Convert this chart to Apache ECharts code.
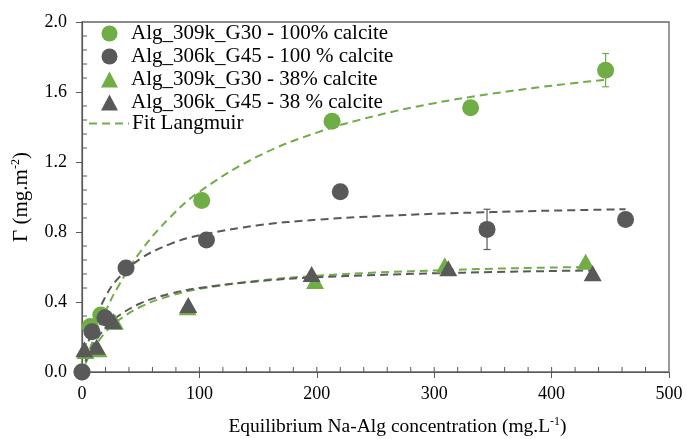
<!DOCTYPE html>
<html>
<head>
<meta charset="utf-8">
<script src="https://cdn.jsdelivr.net/npm/echarts@6/dist/echarts.min.js"></script>
<style>html,body{margin:0;padding:0;background:#fff}#c{width:687px;height:439px}</style>
</head>
<body>
<div id="c"></div>
<script>
// ---- data ----
const xTicks = [0, 100, 200, 300, 400, 500];
const yTicks = [0.0, 0.4, 0.8, 1.2, 1.6, 2.0];
const minorPerMajor = 5;

const nameG30_100 = 'Alg_309k_G30 - 100% calcite';
const nameG45_100 = 'Alg_306k_G45 - 100 % calcite';
const nameG30_38 = 'Alg_309k_G30 - 38% calcite';
const nameG45_38 = 'Alg_306k_G45 - 38 % calcite';
const nameFit = 'Fit Langmuir';

const g30_100_x = [0, 7, 16, 102, 213, 331, 446];
const g30_100_y = [0, 0.26, 0.326, 0.98, 1.433, 1.51, 1.724];
const g45_100_x = [0, 8.5, 19.5, 37.5, 106, 220, 345, 463];
const g45_100_y = [0, 0.23, 0.31, 0.594, 0.754, 1.03, 0.815, 0.872];
const g30_38_x = [3, 14, 28, 90, 198.5, 309, 429];
const g30_38_y = [0.12, 0.13, 0.287, 0.37, 0.52, 0.61, 0.63];
const g45_38_x = [2, 12.5, 26.5, 90.5, 195.6, 312, 435];
const g45_38_y = [0.13, 0.145, 0.29, 0.383, 0.56, 0.593, 0.564];

// error bars: x, low, high
const errG30_x = [446];
const errG30_lo = [1.63];
const errG30_hi = [1.82];
const errG45_x = [345];
const errG45_lo = [0.70];
const errG45_hi = [0.93];

// Langmuir fit curves
const fitG30_100_x = [3, 5, 10, 20, 30, 50, 75, 100, 150, 200, 250, 300, 350, 400, 446];
const fitG30_100_y = [0.061, 0.099, 0.189, 0.346, 0.479, 0.690, 0.884, 1.030, 1.233, 1.368, 1.464, 1.536, 1.591, 1.636, 1.670];
const fitG45_100_x = [3, 5, 10, 20, 30, 50, 75, 100, 150, 200, 250, 300, 350, 400, 463];
const fitG45_100_y = [0.103, 0.160, 0.275, 0.430, 0.529, 0.648, 0.731, 0.781, 0.838, 0.870, 0.890, 0.904, 0.914, 0.922, 0.930];
const fitG30_38_x = [3, 5, 10, 20, 30, 50, 75, 100, 150, 200, 250, 300, 350, 400, 429];
const fitG30_38_y = [0.048, 0.077, 0.137, 0.227, 0.290, 0.373, 0.435, 0.475, 0.522, 0.550, 0.568, 0.580, 0.590, 0.597, 0.600];
const fitG45_38_x = [3, 5, 10, 20, 30, 50, 75, 100, 150, 200, 250, 300, 350, 400, 435];
const fitG45_38_y = [0.059, 0.092, 0.160, 0.254, 0.316, 0.393, 0.447, 0.480, 0.519, 0.541, 0.554, 0.564, 0.571, 0.577, 0.580];

// ---- styling ----
const GREEN = '#70AD47';
const GRAY = '#595959';
const AXIS = '#595959';
const FONT = '"Liberation Serif", "Times New Roman", serif';
const INNER_TICK = 5;

const zip = (xs, ys) => xs.map((x, i) => [x, ys[i]]);
const zip3 = (xs, a, b) => xs.map((x, i) => [x, a[i], b[i]]);

// tick values for the inward tick marks (derived from the axis tick arrays)
function minorValues(ticks) {
  const out = [];
  for (let i = 0; i < ticks.length - 1; i++) {
    const step = (ticks[i + 1] - ticks[i]) / minorPerMajor;
    for (let k = 1; k < minorPerMajor; k++) out.push(ticks[i] + k * step);
  }
  return out;
}
const xInnerTickVals = minorValues(xTicks).concat(xTicks.slice(1, -1));
const yInnerTickVals = minorValues(yTicks);

function xTickRender(params, api) {
  const p = api.coord([api.value(0), api.value(1)]);
  return { type: 'line', shape: { x1: p[0], y1: p[1], x2: p[0], y2: p[1] - INNER_TICK },
           style: { stroke: AXIS, lineWidth: 1 } };
}
function yTickRender(params, api) {
  const p = api.coord([api.value(0), api.value(1)]);
  return { type: 'line', shape: { x1: p[0], y1: p[1], x2: p[0] + INNER_TICK, y2: p[1] },
           style: { stroke: AXIS, lineWidth: 1 } };
}

function errRender(color) {
  return function (params, api) {
    const x = api.value(0), lo = api.value(1), hi = api.value(2);
    const p1 = api.coord([x, lo]);
    const p2 = api.coord([x, hi]);
    const w = 3.5;
    const st = { stroke: color, lineWidth: 1.2 };
    return {
      type: 'group',
      children: [
        { type: 'line', shape: { x1: p1[0], y1: p1[1], x2: p2[0], y2: p2[1] }, style: st },
        { type: 'line', shape: { x1: p1[0] - w, y1: p1[1], x2: p1[0] + w, y2: p1[1] }, style: st },
        { type: 'line', shape: { x1: p2[0] - w, y1: p2[1], x2: p2[0] + w, y2: p2[1] }, style: st }
      ]
    };
  };
}

const fitLine = (name, xs, ys, color) => ({
  name: name, type: 'line', data: zip(xs, ys), symbol: 'none', showSymbol: false, smooth: 0.4,
  lineStyle: { color: color, width: 2, type: [8, 5] }, itemStyle: { color: color },
  z: 1, silent: true, animation: false
});

const scat = (name, xs, ys, color, symbol, size) => ({
  name: name, type: 'scatter', data: zip(xs, ys), symbol: symbol, symbolSize: size,
  itemStyle: { color: color, opacity: 1 }, z: 3, animation: false
});

const chart = echarts.init(document.getElementById('c'), null, { renderer: 'canvas' });
chart.setOption({
  backgroundColor: '#fff',
  animation: false,
  grid: { left: 82, right: 18, top: 22, bottom: 67, outerBoundsMode: 'none', containLabel: false,
          show: true, borderColor: '#666', borderWidth: 1.3, backgroundColor: 'transparent' },
  legend: [
    {
      orient: 'vertical', left: 101, top: 23, padding: 0, itemWidth: 17, itemHeight: 16, itemGap: 2,
      data: [
        { name: nameG30_100, icon: 'circle' },
        { name: nameG45_100, icon: 'circle' },
        { name: nameG30_38, icon: 'triangle' },
        { name: nameG45_38, icon: 'triangle' }
      ],
      textStyle: { fontFamily: FONT, fontSize: 21, color: '#000', lineHeight: 20, padding: [0, 0, 0, 8] },
      selectedMode: false
    },
    {
      orient: 'vertical', left: 88, top: 113, padding: 0, itemWidth: 40, itemHeight: 14,
      data: [{ name: nameFit }],
      itemStyle: { opacity: 0 },
      textStyle: { fontFamily: FONT, fontSize: 21, color: '#000', lineHeight: 20, padding: [0, 0, 0, -2] },
      selectedMode: false
    }
  ],
  xAxis: {
    type: 'value', position: 'bottom', min: xTicks[0], max: xTicks[xTicks.length - 1], interval: 100,
    axisLine: { show: true, onZero: false, lineStyle: { color: AXIS, width: 1.2 } },
    axisTick: { show: true, length: 6, lineStyle: { color: AXIS } },
    axisLabel: { fontFamily: FONT, fontSize: 18, color: '#000', margin: 13, formatter: v => String(v) },
    splitLine: { show: false },
    name: '{a|Equilibrium Na-Alg concentration (mg.L}{s|-1}{a|)}',
    nameLocation: 'middle', nameGap: 44,
    nameTextStyle: {
      padding: [0, 0, 0, 44],
      rich: {
        a: { fontFamily: FONT, fontSize: 19.5, color: '#000' },
        s: { fontFamily: FONT, fontSize: 12, color: '#000', padding: [0, 0, 10, 0] }
      }
    }
  },
  yAxis: {
    type: 'value', position: 'left', min: yTicks[0], max: yTicks[yTicks.length - 1], interval: 0.4,
    axisLine: { show: true, onZero: false, lineStyle: { color: AXIS, width: 1.2 } },
    axisTick: { show: true, length: 6, lineStyle: { color: AXIS } },
    axisLabel: { fontFamily: FONT, fontSize: 18, color: '#000', margin: 15, formatter: v => v.toFixed(1) },
    splitLine: { show: false },
    name: '{a|Γ (mg.m}{s|-2}{a|)}',
    nameLocation: 'middle', nameGap: 50,
    nameTextStyle: {
      rich: {
        a: { fontFamily: FONT, fontSize: 21, color: '#000' },
        s: { fontFamily: FONT, fontSize: 12, color: '#000', padding: [0, 0, 10, 0] }
      }
    }
  },
  series: [
    {
      name: 'xInnerTicks', type: 'custom', renderItem: xTickRender,
      data: xInnerTickVals.map(v => [v, yTicks[0]]),
      encode: { x: 0, y: 1 }, z: 2, silent: true, animation: false
    },
    {
      name: 'yInnerTicks', type: 'custom', renderItem: yTickRender,
      data: yInnerTickVals.map(v => [xTicks[0], v]),
      encode: { x: 0, y: 1 }, z: 2, silent: true, animation: false
    },
    fitLine(nameFit, fitG30_100_x, fitG30_100_y, GREEN),
    fitLine('fitG45_100', fitG45_100_x, fitG45_100_y, GRAY),
    fitLine('fitG30_38', fitG30_38_x, fitG30_38_y, GREEN),
    fitLine('fitG45_38', fitG45_38_x, fitG45_38_y, GRAY),
    {
      name: 'errG30', type: 'custom', renderItem: errRender(GREEN),
      data: zip3(errG30_x, errG30_lo, errG30_hi), z: 2, silent: true, animation: false,
      encode: { x: 0, y: [1, 2] }
    },
    {
      name: 'errG45', type: 'custom', renderItem: errRender(GRAY),
      data: zip3(errG45_x, errG45_lo, errG45_hi), z: 2, silent: true, animation: false,
      encode: { x: 0, y: [1, 2] }
    },
    scat(nameG30_100, g30_100_x, g30_100_y, GREEN, 'circle', 17),
    scat(nameG45_100, g45_100_x, g45_100_y, GRAY, 'circle', 17),
    scat(nameG30_38, g30_38_x, g30_38_y, GREEN, 'triangle', [18, 16]),
    scat(nameG45_38, g45_38_x, g45_38_y, GRAY, 'triangle', [18, 16])
  ]
});
</script>
</body>
</html>
